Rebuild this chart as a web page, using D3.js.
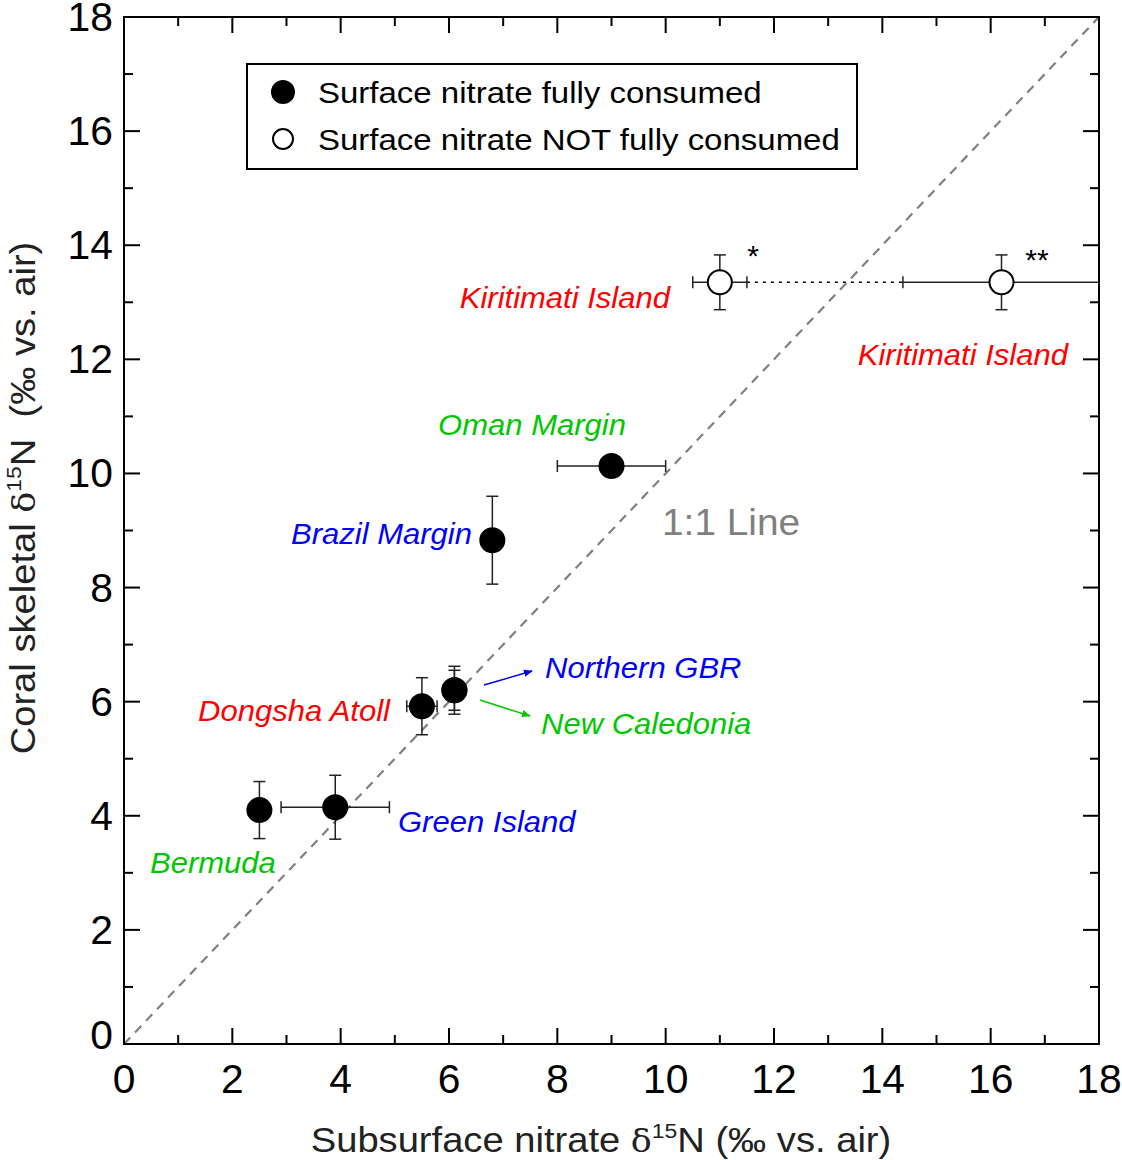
<!DOCTYPE html>
<html><head><meta charset="utf-8">
<script src="https://cdn.jsdelivr.net/npm/d3@7"></script>
<style>body{margin:0;background:#fff}svg{display:block;font-family:Arial,"Liberation Sans",sans-serif}text{white-space:pre}</style>
</head><body>
<svg id="c" width="1122" height="1160"></svg>
<script>
// Data
const names = ["Bermuda","Green Island","Dongsha Atoll","Northern GBR","New Caledonia","Brazil Margin","Oman Margin","Kiritimati Island *","Kiritimati Island **"];
const xVals = [2.5, 3.9, 5.5, 6.1, 6.1, 6.8, 9.0, 11.0, 16.2];
const yVals = [4.1, 4.15, 5.92, 6.2, 6.2, 8.83, 10.13, 13.35, 13.35];
const xErr  = [0.2, 1.0, 0.28, 0.2, 0.2, 0.2, 1.0, 0.5, 1.82];
const yErr  = [0.5, 0.56, 0.5, 0.35, 0.42, 0.77, 0.17, 0.48, 0.48];
const consumed = [true,true,true,true,true,true,true,false,false];
const xTicks = [0,2,4,6,8,10,12,14,16,18];
const yTicks = [0,2,4,6,8,10,12,14,16,18];
const legendLabels = ["Surface nitrate fully consumed","Surface nitrate NOT fully consumed"];

const svg = d3.select("#c");
const L=124,R=1099,T=17,B=1044;
const x = d3.scaleLinear().domain([0,18]).range([L,R]);
const y = d3.scaleLinear().domain([0,18]).range([B,T]);

function txt(px,py,anchor,size,sx,fill){
  return svg.append("text").attr("transform",`translate(${px},${py}) scale(${sx},1)`)
    .attr("text-anchor",anchor).attr("font-size",size).attr("fill",fill||"#000");
}

// 1:1 line
svg.append("line").attr("x1",x(0)).attr("y1",y(0)).attr("x2",x(18)).attr("y2",y(18))
  .attr("stroke","#808080").attr("stroke-width",2.2).attr("stroke-dasharray","9,7");

// clip
svg.append("clipPath").attr("id","clip").append("rect").attr("x",L).attr("y",T).attr("width",R-L).attr("height",B-T);
const g = svg.append("g").attr("clip-path","url(#clip)");

// dotted connection between Kiritimati estimates
g.append("line").attr("x1",x(xVals[7]+xErr[7])).attr("x2",x(xVals[8]-xErr[8]))
  .attr("y1",y(yVals[7])).attr("y2",y(yVals[7])).attr("stroke","#000").attr("stroke-width",1.6).attr("stroke-dasharray","3,5");

const cap=6;
xVals.forEach((xv,i)=>{
  const yv=yVals[i], cx=x(xv), cy=y(yv);
  const eg=g.append("g").attr("stroke","#222").attr("stroke-width",1.5);
  eg.append("line").attr("x1",cx).attr("x2",cx).attr("y1",y(yv-yErr[i])).attr("y2",y(yv+yErr[i]));
  [yv-yErr[i],yv+yErr[i]].forEach(v=>eg.append("line").attr("x1",cx-cap).attr("x2",cx+cap).attr("y1",y(v)).attr("y2",y(v)));
  eg.append("line").attr("y1",cy).attr("y2",cy).attr("x1",x(xv-xErr[i])).attr("x2",x(xv+xErr[i]));
  [xv-xErr[i],xv+xErr[i]].forEach(v=>eg.append("line").attr("y1",cy-cap).attr("y2",cy+cap).attr("x1",x(v)).attr("x2",x(v)));
});
xVals.forEach((xv,i)=>{
  g.append("circle").attr("cx",x(xv)).attr("cy",y(yVals[i])).attr("r",12)
   .attr("fill",consumed[i]?"#000":"#fff").attr("stroke","#000").attr("stroke-width",2);
});

// axes
const axW=2;
svg.append("rect").attr("x",L).attr("y",T).attr("width",R-L).attr("height",B-T).attr("fill","none").attr("stroke","#000").attr("stroke-width",axW);
const minor = d3.range(1,18,2);
function ticks(vals,len){
  vals.forEach(v=>{
    svg.append("line").attr("x1",x(v)).attr("x2",x(v)).attr("y1",B).attr("y2",B-len).attr("stroke","#000").attr("stroke-width",axW);
    svg.append("line").attr("x1",x(v)).attr("x2",x(v)).attr("y1",T).attr("y2",T+len).attr("stroke","#000").attr("stroke-width",axW);
    svg.append("line").attr("y1",y(v)).attr("y2",y(v)).attr("x1",L).attr("x2",L+len).attr("stroke","#000").attr("stroke-width",axW);
    svg.append("line").attr("y1",y(v)).attr("y2",y(v)).attr("x1",R).attr("x2",R-len).attr("stroke","#000").attr("stroke-width",axW);
  });
}
ticks(xTicks,16); ticks(minor,9);

xTicks.forEach(v=>txt(x(v),1093,"middle",40,1.02).text(v));
yTicks.forEach(v=>txt(113,y(v)+(v===0?5:14),"end",40,1.02).text(v));

// axis titles
const xt=txt(601,1152,"middle",35,1.09,"#222");
xt.append("tspan").text("Subsurface nitrate ");
xt.append("tspan").attr("font-family","'DejaVu Serif','Liberation Serif',serif").attr("font-size",32).text("δ");
xt.append("tspan").attr("font-size",21).attr("dy",-14).text("15");
xt.append("tspan").attr("dy",14).text("N (‰ vs. air)");

const yt=svg.append("text").attr("transform","translate(35,498) rotate(-90) scale(1.09,1)").attr("text-anchor","middle").attr("font-size",35).attr("fill","#222");
yt.append("tspan").text("Coral skeletal ");
yt.append("tspan").attr("font-family","'DejaVu Serif','Liberation Serif',serif").attr("font-size",32).text("δ");
yt.append("tspan").attr("font-size",21).attr("dy",-14).text("15");
yt.append("tspan").attr("dy",14).text("N  (‰ vs. air)");

// legend
svg.append("rect").attr("x",247).attr("y",64).attr("width",610).attr("height",105).attr("fill","#fff").attr("stroke","#000").attr("stroke-width",2);
legendLabels.forEach((t,i)=>{
  const ly=92+i*47;
  svg.append("circle").attr("cx",283).attr("cy",ly).attr("r",i===0?11:10).attr("fill",i===0?"#000":"#fff").attr("stroke","#000").attr("stroke-width",2);
  txt(318,ly+11,"start",30,1.1).text(t);
});

// labels
const red="#ff0000", green="#00c800", blue="#0000ff";
const labs=[
  ["Kiritimati Island",670,308,"end",red],
  ["Kiritimati Island",1068,365,"end",red],
  ["Oman Margin",532,435,"middle",green],
  ["Brazil Margin",472,544,"end",blue],
  ["Northern GBR",545,678,"start",blue],
  ["New Caledonia",541,734,"start",green],
  ["Dongsha Atoll",390,721,"end",red],
  ["Green Island",398,832,"start",blue],
  ["Bermuda",150,873,"start",green]
];
labs.forEach(l=>txt(l[1],l[2],l[3],29,1.07,l[4]).attr("font-style","italic").text(l[0]));
txt(662,535,"start",37,1.05,"#808080").text("1:1 Line");
txt(753,266,"middle",30,1).text("*");
txt(1037,270,"middle",30,1).text("**");

// arrows
const defs=svg.append("defs");
[["ab",blue],["ag",green]].forEach(([id,c])=>{
  defs.append("marker").attr("id",id).attr("viewBox","0 0 10 10").attr("refX",9).attr("refY",5).attr("markerWidth",6).attr("markerHeight",6).attr("orient","auto")
   .append("path").attr("d","M0,1 L10,5 L0,9 Z").attr("fill",c);
});
svg.append("line").attr("x1",484).attr("y1",685).attr("x2",532).attr("y2",671).attr("stroke",blue).attr("stroke-width",1.5).attr("marker-end","url(#ab)");
svg.append("line").attr("x1",480).attr("y1",700).attr("x2",530).attr("y2",716).attr("stroke",green).attr("stroke-width",1.5).attr("marker-end","url(#ag)");
</script>
</body></html>
